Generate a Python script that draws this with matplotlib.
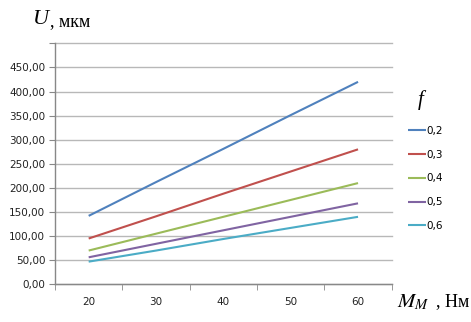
import matplotlib
matplotlib.use('Agg')
import matplotlib.pyplot as plt

categories = ['20', '30', '40', '50', '60']
f_labels = ['0,2', '0,3', '0,4', '0,5', '0,6']
u_02 = [142, 212, 281, 351, 420]
u_03 = [95, 141, 188, 234, 280]
u_04 = [70, 105, 140, 175, 210]
u_05 = [56, 84, 112, 140, 168]
u_06 = [47, 70, 94, 117, 140]
colors = ['#4F81BD', '#C0504D', '#9BBB59', '#8064A2', '#4BACC6']
y_ticks = [0, 50, 100, 150, 200, 250, 300, 350, 400, 450, 500]


def fmt(v):
    return '{:.2f}'.format(v).replace('.', ',')


def main():
    W, H = 471, 322
    fig = plt.figure(figsize=(W / 100, H / 100), dpi=100)
    ax = fig.add_axes([55 / W, 1 - 284.3 / H, (391.7 - 55) / W, (284.3 - 43.3) / H])

    x = list(range(len(categories)))
    series = [u_02, u_03, u_04, u_05, u_06]
    for vals, lab, c in zip(series, f_labels, colors):
        ax.plot(x, vals, color=c, lw=1.5, label=lab, solid_capstyle='butt')

    ax.set_xlim(-0.5, len(categories) - 0.5)
    ax.set_ylim(0, 500)
    ax.set_yticks(y_ticks)
    ax.set_yticklabels([fmt(v) if v < 500 else '' for v in y_ticks])
    ax.set_xticks(x)
    ax.set_xticklabels(categories)
    ax.set_xticks([i - 0.5 for i in range(len(categories) + 1)], minor=True)
    ax.tick_params(axis='x', which='major', length=0, pad=9, labelsize=7.5, labelcolor='#222222')
    ax.tick_params(axis='x', which='minor', length=4, color='#888888', direction='out')
    ax.tick_params(axis='y', length=4, color='#888888', pad=3, labelsize=7.5, labelcolor='#222222')
    ax.grid(axis='y', color='#b8b8b8', lw=1, clip_on=False)
    ax.set_axisbelow(True)
    for s in ['top', 'right']:
        ax.spines[s].set_visible(False)
    for s in ['left', 'bottom']:
        ax.spines[s].set_color('#888888')
        ax.spines[s].set_linewidth(1)

    serif = ['Liberation Serif', 'DejaVu Serif']
    fig.text(33 / W, 1 - 20 / H, 'U', fontsize=16, style='italic', family=serif, va='center')
    fig.text(50 / W, 1 - 22 / H, ', мкм', fontsize=13, family=serif, va='center')
    fig.text(418 / W, 1 - 100 / H, 'f', fontsize=15, style='italic', family=serif, va='center')
    fig.text(397 / W, 1 - 302 / H, r'$M_M$', fontsize=15, family=serif, va='center',
             math_fontfamily='stix')
    fig.text(436 / W, 1 - 302 / H, ', Нм', fontsize=13, family=serif, va='center')

    ax.legend(loc='upper left', bbox_to_anchor=(408 / W, 1 - 126 / H),
              bbox_transform=fig.transFigure, frameon=False, fontsize=7.5,
              handlelength=1.7, handletextpad=0.1, labelspacing=1.32,
              borderaxespad=0, borderpad=0)

    fig.savefig('out.png', dpi=100)


if __name__ == '__main__':
    main()
